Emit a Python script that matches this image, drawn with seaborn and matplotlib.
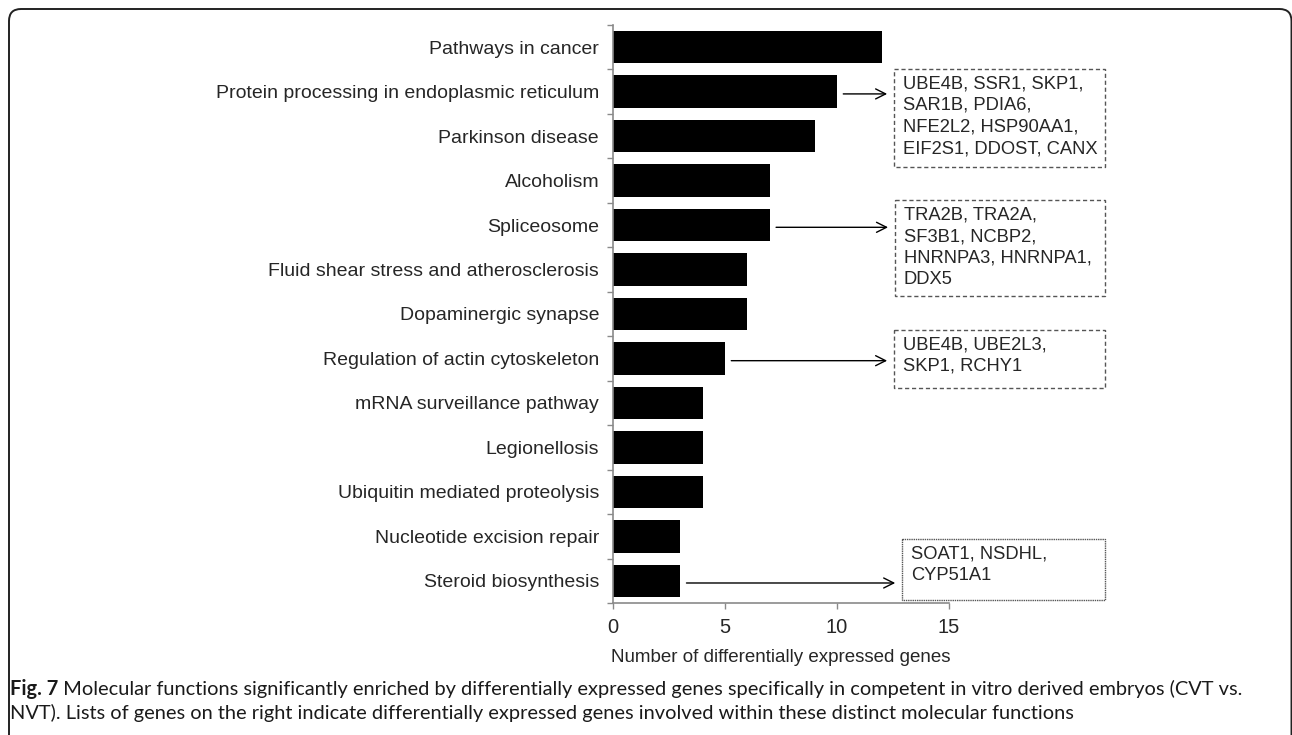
import matplotlib
matplotlib.use("Agg")
import matplotlib.pyplot as plt
from matplotlib.patches import Rectangle, FancyBboxPatch
import seaborn as sns
import pandas as pd

# KEGG pathways and number of differentially expressed genes in each
pathways = [
    "Pathways in cancer",
    "Protein processing in endoplasmic reticulum",
    "Parkinson disease",
    "Alcoholism",
    "Spliceosome",
    "Fluid shear stress and atherosclerosis",
    "Dopaminergic synapse",
    "Regulation of actin cytoskeleton",
    "mRNA surveillance pathway",
    "Legionellosis",
    "Ubiquitin mediated proteolysis",
    "Nucleotide excision repair",
    "Steroid biosynthesis",
]
gene_counts = [12, 10, 9, 7, 7, 6, 6, 5, 4, 4, 4, 3, 3]

xticks = [0, 5, 10, 15]
xlabel = "Number of differentially expressed genes"

# gene lists attached to selected pathways
note_pathways = [
    "Protein processing in endoplasmic reticulum",
    "Spliceosome",
    "Regulation of actin cytoskeleton",
    "Steroid biosynthesis",
]
note_genes = [
    "UBE4B, SSR1, SKP1,\nSAR1B, PDIA6,\nNFE2L2, HSP90AA1,\nEIF2S1, DDOST, CANX",
    "TRA2B, TRA2A,\nSF3B1, NCBP2,\nHNRNPA3, HNRNPA1,\nDDX5",
    "UBE4B, UBE2L3,\nSKP1, RCHY1",
    "SOAT1, NSDHL,\nCYP51A1",
]
# box layout: (left x, top offset from bar, height, line style)
note_boxes = [
    (12.54, -0.51, 2.20, (0, (3, 2))),
    (12.58, -0.56, 2.16, (0, (3, 2))),
    (12.54, -0.64, 1.30, (0, (3, 2))),
    (12.90, -0.94, 1.37, (0, (1, 0.6))),
]
box_right = 21.96

caption_bold = "Fig. 7"
caption_line1 = (" Molecular functions significantly enriched by differentially expressed genes "
                 "specifically in competent in vitro derived embryos (CVT vs.")
caption_line2 = ("NVT). Lists of genes on the right indicate differentially expressed genes "
                 "involved within these distinct molecular functions")

sns.set_theme(style="ticks")
plt.rcParams["font.family"] = ["Liberation Sans", "DejaVu Sans"]

W, H = 1292, 735
fig = plt.figure(figsize=(W / 100, H / 100), dpi=100)
ax = fig.add_axes([613 / W, 1 - 603 / H, 336 / W, (603 - 25) / H])

df = pd.DataFrame({"pathway": pathways, "count": gene_counts})
sns.barplot(data=df, x="count", y="pathway", color="black", orient="h",
            width=0.73, saturation=1, ax=ax, edgecolor="none")

ax.set_xlim(0, 15)
ax.set_ylim(len(pathways) - 0.5, -0.5)
ax.set_xticks(xticks)
ax.set_xticklabels([str(t) for t in xticks], fontsize=14.5)
ax.set_xlabel(xlabel, fontsize=13.5, labelpad=9)
ax.set_ylabel("")
ax.tick_params(axis="y", which="major", length=0, pad=10, labelsize=14)
ax.set_yticks([i - 0.5 for i in range(len(pathways) + 1)], minor=True)
ax.tick_params(axis="y", which="minor", length=4.5, width=1, color="#8a8a8a")
ax.tick_params(axis="x", length=4.5, width=1, color="#8a8a8a", pad=6)
for side in ("top", "right"):
    ax.spines[side].set_visible(False)
for side in ("left", "bottom"):
    ax.spines[side].set_color("#8a8a8a")
    ax.spines[side].set_linewidth(1.2)

# arrows and gene list boxes
for name, genes, (bx, top_off, bh, ls) in zip(note_pathways, note_genes, note_boxes):
    i = pathways.index(name)
    val = gene_counts[i]
    y = i + 0.05
    ax.annotate("", xy=(bx - 0.3, y), xytext=(val + 0.28, y),
                arrowprops=dict(arrowstyle="->,head_length=0.6,head_width=0.3",
                                lw=1, color="black", shrinkA=0, shrinkB=0),
                annotation_clip=False)
    top = i + top_off
    ax.add_patch(Rectangle((bx, top), box_right - bx, bh, fill=False,
                           edgecolor="#555555", lw=1, linestyle=ls, clip_on=False))
    ax.text(bx + 0.4, top + 0.14, genes, ha="left", va="top", fontsize=13.2,
            linespacing=1.36, clip_on=False)

# rounded frame around the figure panel
frame = FancyBboxPatch((9, -40), 1282.5, 726 + 40, transform=None,
                       boxstyle="round,pad=0,rounding_size=12",
                       fill=False, edgecolor="#222222", lw=1.4)
fig.patches.append(frame)

# caption
cap_font = ["Lato", "DejaVu Sans"]
cap_size = 14.45
t_bold = fig.text(10 / W, 1 - 689 / H, caption_bold, fontsize=cap_size, fontweight="bold",
                  family=cap_font, va="center", ha="left", color="#1a1a1a")
fig.canvas.draw()
bb = t_bold.get_window_extent()
fig.text(bb.x1 / W, 1 - 689 / H, caption_line1, fontsize=cap_size, family=cap_font,
         va="center", ha="left", color="#1a1a1a")
fig.text(10 / W, 1 - 713 / H, caption_line2, fontsize=cap_size, family=cap_font,
         va="center", ha="left", color="#1a1a1a")

fig.savefig("out.png", dpi=100)
